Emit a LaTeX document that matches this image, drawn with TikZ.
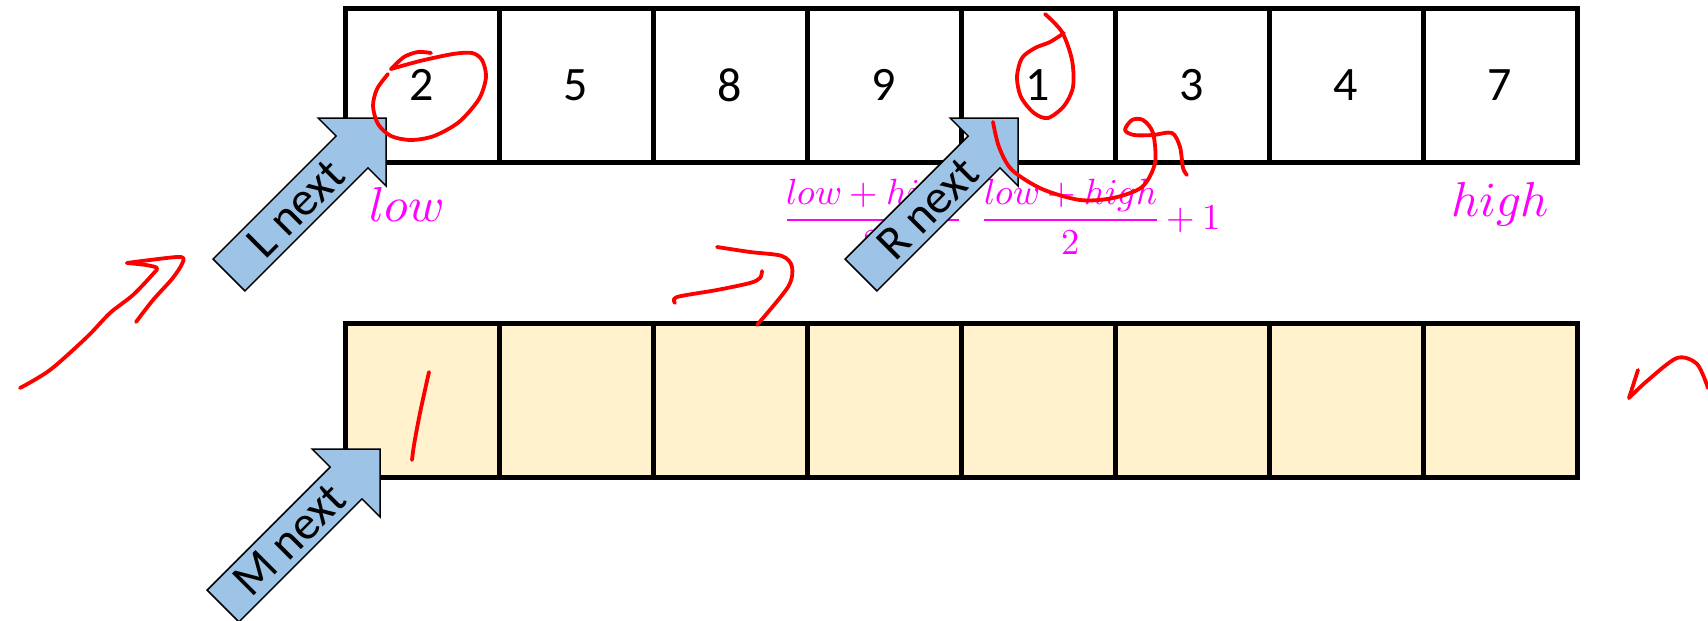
\documentclass[tikz,border=0pt]{standalone}
\usepackage{fontspec}
\usepackage{unicode-math}
\setmathfont{Latin Modern Math}
\newfontfamily\carl{Carlito}
\definecolor{cellyellow}{HTML}{FFF2CC}
\definecolor{arrowblue}{HTML}{9DC3E6}
\definecolor{labmagenta}{HTML}{FF00FF}
\newcommand\blockarrow[3]{%
  \begin{scope}[shift={#2}, rotate=45]
    \draw[barrow] (0,0) -- (-48,-48) -- (-48,-22.5) -- (-222,-22.5) -- (-222,22.5) -- (-48,22.5) -- (-48,48) -- cycle;
    \node[arrowtext] (#1) at (-128,0) {#3};
  \end{scope}}
\begin{document}
\begin{tikzpicture}[x=1pt,y=-1pt]
\tikzset{
  cell/.style={draw=black, line width=5pt, minimum width=154pt, minimum height=154pt,
    inner sep=0pt, outer sep=0pt, font=\carl\fontsize{48}{56}\selectfont},
  topcell/.style={cell, fill=white},
  botcell/.style={cell, fill=cellyellow},
  ink/.style={draw=red, line width=3.8pt, line cap=round, line join=round},
  lab/.style={text=labmagenta, inner sep=0pt, font=\fontsize{49}{56}\selectfont},
  fraclab/.style={text=labmagenta, inner sep=0pt, font=\fontsize{36.5}{44}\selectfont},
  barrow/.style={draw=black, line width=1.5pt, fill=arrowblue, line join=miter},
  arrowtext/.style={font=\carl\fontsize{48}{54}\selectfont, rotate=45, inner sep=0pt},
}
\useasboundingbox (0,0) rectangle (1708,621);
% top row
\foreach \v [count=\i] in {2,5,8,9,1,3,4,7} {
  \node[topcell] (t\i) at ({345+77+154*(\i-1)},85) {\v};
}
% bottom row
\foreach \i in {1,...,8} {
  \node[botcell] (b\i) at ({345+77+154*(\i-1)},400) {};
}
% labels
\node[lab] (low) at (407,205) {$low$};
\node[lab] (high) at (1500,205) {$high$};
\node[fraclab, anchor=base] (mid) at (873,229) {$\displaystyle\frac{low+high}{2}$};
\node[fraclab, anchor=base west] (midp) at (982.8,229) {$\displaystyle\frac{low+high}{2}+1$};
% block arrows
\blockarrow{Lnext}{(386,118)}{L next}
\blockarrow{Rnext}{(1018,118)}{R next}
\blockarrow{Mnext}{(380,449)}{M next}
% red ink
\draw[ink] plot[smooth, tension=0.5] coordinates {(431,53) (418,52) (404,57) (391,69)};
\draw[ink] plot[smooth, tension=0.5] coordinates {(391,69) (420,61) (453,54) (472,53) (482,60) (486,77) (479,99) (459,122) (434,136) (411,140) (391,136) (378,124) (373,106) (377,89) (388,74)};
\draw[ink] plot[smooth, tension=0.5] coordinates {(1045,14) (1062,32) (1072,60) (1073,87) (1064,106) (1048,118) (1034,113) (1021,97) (1017,77) (1022,58) (1035,48) (1050,42) (1064,33)};
\draw[ink] plot[smooth, tension=0.5] coordinates {(993,122) (999,147) (1012,170) (1042,189) (1080,200) (1113,198) (1142,187) (1155,163) (1153,133) (1143,120) (1132,120) (1125,130) (1134,135) (1153,135) (1172,133) (1180,147) (1183,168) (1187,175)};
\draw[ink] plot[smooth, tension=0.5] coordinates {(20,388) (50,370) (87,337) (110,313) (133,295) (153,274) (157,268) (146,265) (127,263)};
\draw[ink] plot[smooth, tension=0.5] coordinates {(127,263) (150,260) (181,257) (182,264) (172,279) (153,300) (136,322)};
\draw[ink] plot[smooth, tension=0.5] coordinates {(675,303) (677,297) (717,290) (750,283) (760,278) (762,271)};
\draw[ink] plot[smooth, tension=0.5] coordinates {(717,247) (750,252) (782,256) (792,267) (788,287) (757,325)};
\draw[ink] plot[smooth, tension=0.5] coordinates {(429,372) (420,413) (414,445) (412,460)};
\draw[ink] (1638,370) -- (1629,398);
\draw[ink] plot[smooth, tension=0.5] coordinates {(1629,398) (1647,381) (1677,358) (1697,364) (1708,388)};
\end{tikzpicture}
\end{document}
